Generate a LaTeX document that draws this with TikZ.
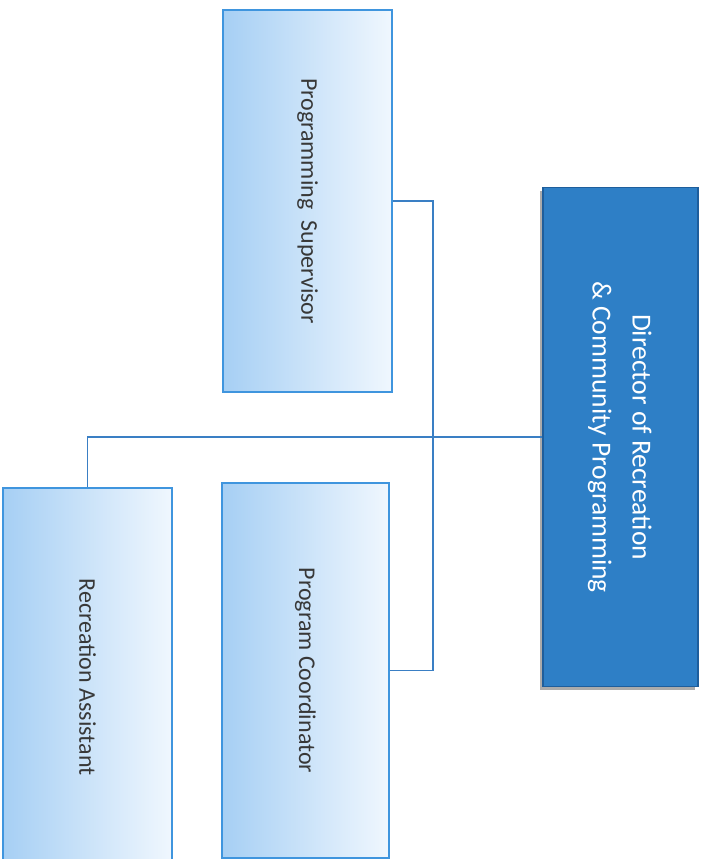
\documentclass[tikz,border=0pt]{standalone}
\usepackage{fontspec}
\setmainfont{Carlito}
\usepackage{graphicx}
\usetikzlibrary{shadings,shadows}
\definecolor{dirblue}{HTML}{2E7FC6}
\definecolor{dirborder}{HTML}{1E5E9C}
\definecolor{lightL}{HTML}{A6CFF4}
\definecolor{lightR}{HTML}{F0F7FE}
\definecolor{boxline}{HTML}{3F95DE}
\definecolor{conn}{HTML}{3A7FC4}
\definecolor{txt}{HTML}{383838}
\tikzset{
  lightbox/.style={rectangle, draw=boxline, line width=1.2pt, left color=lightL, right color=lightR, shading angle=90, inner sep=0pt, text=txt, font=\fontsize{24}{29}\selectfont},
  dirbox/.style={rectangle, draw=dirborder, line width=1.2pt, fill=dirblue, inner sep=0pt, text=white, font=\fontsize{27.5}{40}\selectfont, drop shadow={shadow xshift=-3pt, shadow yshift=-3pt, fill=black!55, opacity=0.6}},
  link/.style={draw=conn, line width=1.5pt}
}
\begin{document}
\begin{tikzpicture}[x=1pt,y=-1pt]
\clip (0,0) rectangle (706,859);
\fill[white] (0,0) rectangle (706,859);
\coordinate (bus) at (433,437);
\node[lightbox, minimum width=169pt, minimum height=382pt] (ps) at (307.5,201)
  {\rotatebox{-90}{Programming\ \ Supervisor}};
\node[lightbox, minimum width=167pt, minimum height=375pt] (pc) at (305.5,670.5)
  {\rotatebox{-90}{Program Coordinator}};
\node[lightbox, minimum width=169pt, minimum height=378pt] (ra) at (87.5,677)
  {\rotatebox{-90}{Recreation Assistant}};
\node[dirbox, minimum width=155pt, minimum height=499pt] (dir) at (620.5,437)
  {\rotatebox{-90}{\begin{tabular}{@{}c@{}}Director of Recreation\\ \& Community Programming\end{tabular}}};
\draw[link] (ps.east) -| (bus) |- (pc.east);
\draw[link] (dir.west) -| (ra.north);
\end{tikzpicture}
\end{document}
